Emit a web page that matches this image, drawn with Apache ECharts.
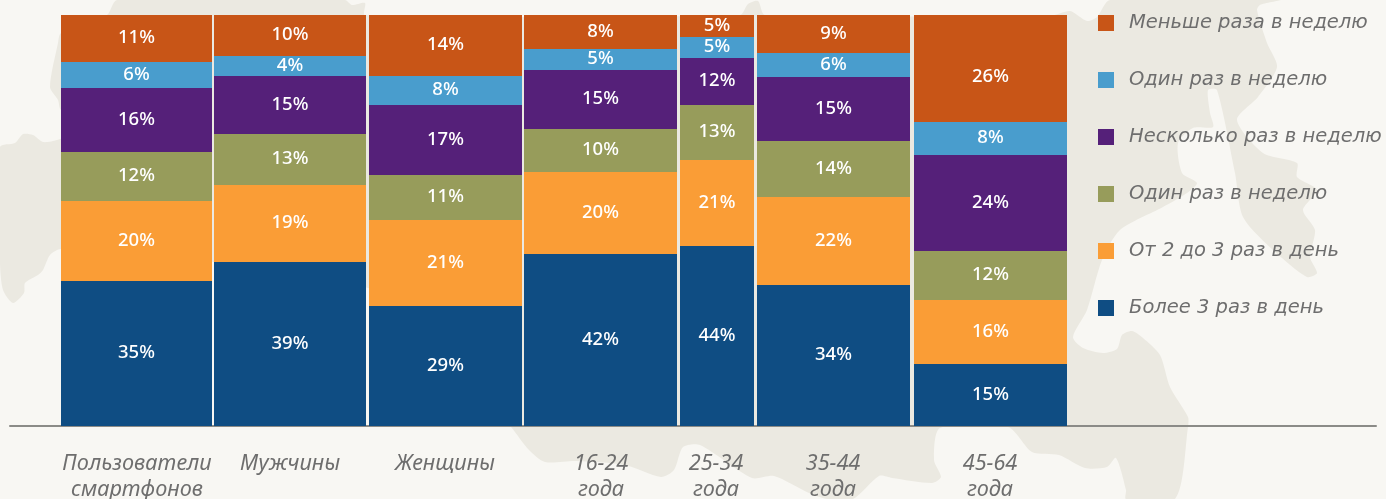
<!DOCTYPE html>
<html><head><meta charset="utf-8">
<script src="https://cdn.jsdelivr.net/npm/echarts@6/dist/echarts.min.js"></script>
<style>html,body{margin:0;padding:0;background:#f8f7f3}#c{width:1386px;height:499px}</style>
</head><body><div id="c"></div>
<script>
const categories = ['Пользователи\nсмартфонов','Мужчины','Женщины','16-24\nгода','25-34\nгода','35-44\nгода','45-64\nгода'];
const columnStart = [51,204,359,514,670,747,904];
const columnEnd   = [202,356,512,667,744,900,1057];
const labelCenter = [127,280,435,591,706,823,980];
const seriesNames = ['Более 3 раз в день','От 2 до 3 раз в день','Один раз в неделю','Несколько раз в неделю','Один раз в неделю ','Меньше раза в неделю'];
const seriesColors = ['#0f4d83','#fa9d36','#979c5b','#552079','#499dcd','#c85517'];
const heightBlue   = [35.3,39.9,29.2,41.8,43.8,34.3,15.1];
const heightOrange = [19.5,18.7,20.9,20.0,20.9,21.4,15.6];
const heightOlive  = [11.9,12.4,10.9,10.5,13.4,13.6,11.9];
const heightPurple = [15.6,14.1,17.0,14.4,11.4,15.6,23.4];
const heightSky    = [6.3,4.9,7.1,5.1,5.1,5.8,8.0];
const heightRust   = [11.4,10.0,14.9,8.2,5.4,9.3,26.0];
const labelBlue   = [35,39,29,42,44,34,15];
const labelOrange = [20,19,21,20,21,22,16];
const labelOlive  = [12,13,11,10,13,14,12];
const labelPurple = [16,15,17,15,12,15,24];
const labelSky    = [6,4,8,5,5,6,8];
const labelRust   = [11,10,14,8,5,9,26];
const heights = [heightBlue,heightOrange,heightOlive,heightPurple,heightSky,heightRust];
const labels  = [labelBlue,labelOrange,labelOlive,labelPurple,labelSky,labelRust];
const FONT = '"Noto Sans", sans-serif';

const landOutline = [[117,0],[345,0],[352,5],[365,3],[365,15],[740,15],[748,4],[758,1],[765,15],[1053,15],[1070,11],[1087,21],[1097,17],[1110,0],[1280,0],[1260,5],[1257,10],[1267,43],[1277,67],[1258,97],[1237,120],[1263,153],[1297,163],[1297,177],[1317,190],[1303,210],[1315,230],[1310,257],[1317,273],[1307,277],[1273,250],[1243,217],[1235,173],[1217,90],[1208,90],[1210,113],[1213,127],[1193,128],[1178,143],[1182,173],[1197,183],[1187,193],[1163,207],[1120,230],[1102,260],[1087,310],[1073,337],[1083,348],[1103,353],[1117,349],[1122,335],[1132,331],[1143,338],[1160,355],[1170,387],[1188,417],[1188,427],[1175,499],[1126,499],[1126,490],[1116,458],[1107,467],[1085,468],[1059,455],[1032,452],[1008,427],[940,428],[934,460],[941,477],[932,483],[892,478],[879,476],[853,499],[827,499],[809,493],[774,476],[752,478],[700,445],[683,447],[674,470],[661,477],[625,465],[576,461],[545,462],[529,450],[511,427],[400,300],[200,260],[61,249],[50,255],[43,270],[38,275],[25,283],[24,293],[13,303],[3,290],[0,263],[0,147],[15,143],[23,134],[33,135],[43,142],[57,140],[80,130],[80,115],[61,110],[58,100],[50,87],[58,43],[61,33],[107,15]];

const chart = echarts.init(document.getElementById('c'), null, {renderer:'canvas'});

function renderSegment(params, api){
  const s = api.coord([api.value(0), api.value(3)]);
  const e = api.coord([api.value(1), api.value(2)]);
  const top = Math.round(s[1]), bottom = Math.round(e[1]);
  const shift = (bottom - top > 100) && (params.seriesIndex === 5) ? 8 : -0.5;
  return {type:'group', children:[
    {type:'rect', shape:{x:s[0],y:top,width:e[0]-s[0],height:bottom-top}, style:{fill:api.visual('color')}},
    {type:'text', x:(s[0]+e[0])/2, y:(top+bottom)/2+shift, style:{text:api.value(4)+'%',fill:'#fff',font:'500 18.5px '+FONT,textAlign:'center',textVerticalAlign:'middle'}}
  ]};
}

const series = heights.map(function(h,i){
  return {
    name: seriesNames[i], type:'custom', renderItem:renderSegment, color:seriesColors[i],
    itemStyle:{color:seriesColors[i]}, clip:false, z:2, animation:false,
    dimensions:['start','end','base','top','label'],
    encode:{x:[0,1],y:[2,3]},
    data: h.map(function(v,j){
      let base = 0;
      for(let k=0;k<i;k++) base += heights[k][j];
      return [columnStart[j],columnEnd[j],base,base+v,labels[i][j]];
    })
  };
});

chart.setOption({
  animation:false,
  backgroundColor:'#f8f7f3',
  graphic:[{type:'polygon',silent:true,z:-10,shape:{points:landOutline,smooth:0.25},style:{fill:'#ebe9e1'}}],
  grid:{left:10,right:10,top:15,height:411,outerBoundsMode:'none'},
  xAxis:{type:'value',min:0,max:1366,splitLine:{show:false},
    axisLine:{show:true,onZero:false,lineStyle:{color:'#8b8b87',width:2}},
    axisTick:{show:false},
    axisLabel:{customValues:labelCenter,hideOverlap:false,showMinLabel:true,showMaxLabel:true,margin:25,
      color:'#6e6e6e',fontStyle:'italic',fontFamily:FONT,fontSize:21.7,lineHeight:26,
      formatter:function(v){return categories[labelCenter.indexOf(v)]||'';}}},
  yAxis:{type:'value',min:0,max:100,show:false},
  legend:{left:1098,top:13,padding:0,orient:'vertical',align:'left',icon:'rect',itemWidth:16,itemHeight:16,itemGap:37,selectedMode:false,
    data:seriesNames.slice().reverse(),
    textStyle:{color:'#6e6e6e',fontStyle:'italic',fontFamily:'"DejaVu Sans", sans-serif',fontSize:19.5,padding:[0,0,0,10]}},
  series:series
});
</script></body></html>
